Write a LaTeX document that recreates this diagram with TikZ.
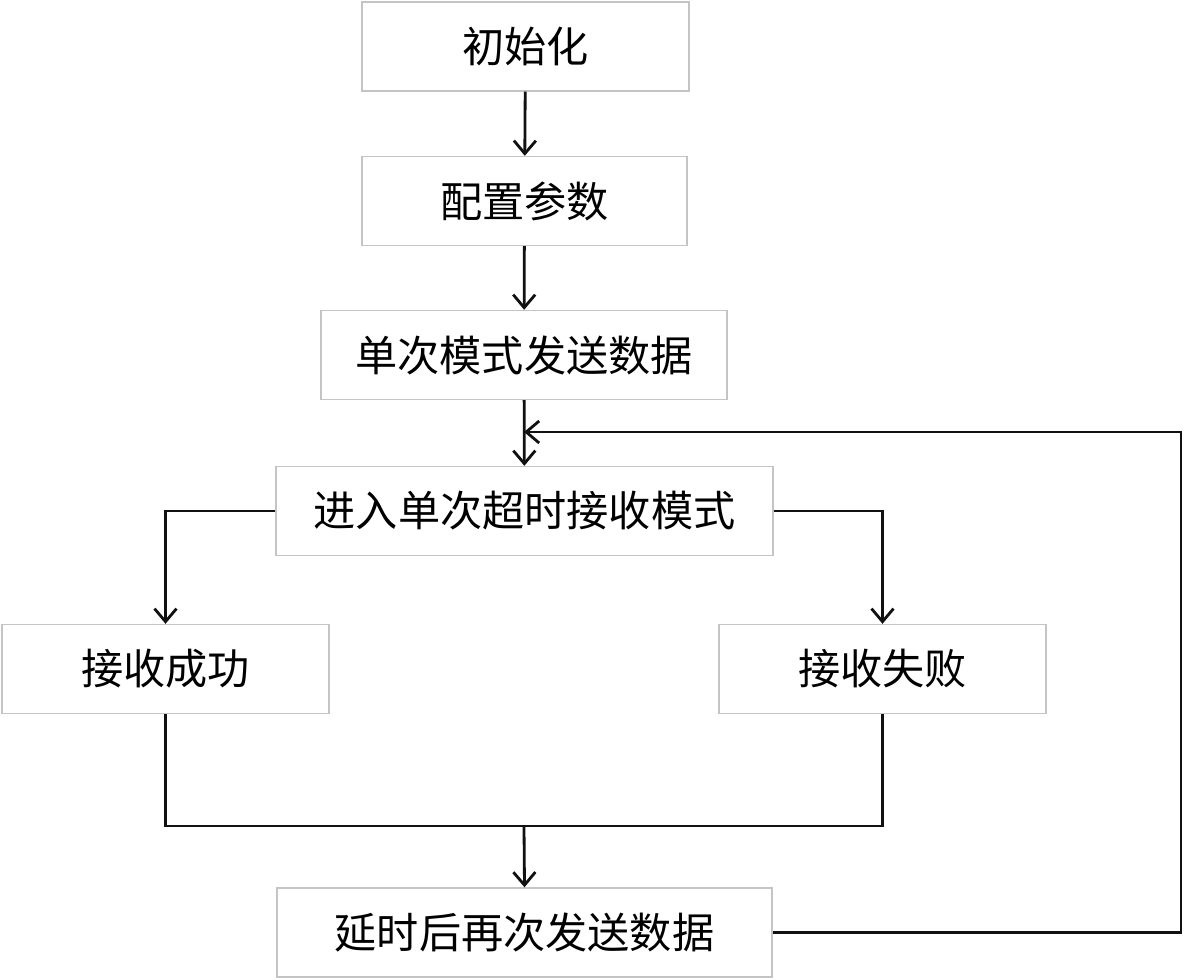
\documentclass[tikz,border=0pt]{standalone}
\usepackage{fontspec}
\newfontfamily\cjk{Noto Sans CJK SC}
\usepackage{tikz}
\usetikzlibrary{arrows.meta,positioning,calc}
\definecolor{boxgray}{HTML}{C4C4C4}
\definecolor{ink}{HTML}{111111}

\begin{document}
\begin{tikzpicture}[x=0.02cm,y=-0.02cm,every node/.style={font=\cjk\fontsize{24}{28}\selectfont},box/.style={draw=boxgray,line width=0.8pt,minimum height=1.78cm,inner sep=0pt},arr/.style={-{Straight Barb[length=2.6mm,width=4.4mm]},line width=1.6pt,draw=ink},ln/.style={line width=1.6pt,draw=ink}]
\useasboundingbox (0,0) rectangle (1184,980);
\node[box,minimum width=6.54cm] (init) at (525.5,46.5) {初始化};
\node[box,minimum width=6.5cm] (cfg) at (524.5,201) {配置参数};
\node[box,minimum width=8.12cm] (single) at (524,355) {单次模式发送数据};
\node[box,minimum width=9.94cm] (recv) at (524.5,511) {进入单次超时接收模式};
\node[box,minimum width=6.54cm] (ok) at (165.5,669) {接收成功};
\node[box,minimum width=6.54cm] (fail) at (882.5,669) {接收失败};
\node[box,minimum width=9.9cm] (delay) at (524.5,932.5) {延时后再次发送数据};
\coordinate (back) at (524,432);
\coordinate (loop) at (1181,432);
\coordinate (merge) at (524,826);
\draw[arr] (init) -- (cfg);\draw[arr] (cfg) -- (single);\draw[arr] (single) -- (recv);
\draw[arr] (recv.west) -| (ok.north);\draw[arr] (recv.east) -| (fail.north);
\draw[ln] (ok.south) |- (merge) -| (fail.south);
\draw[arr] (merge) -- (delay.north);
\draw[arr] (delay.east) -| (loop) -- (back);
\end{tikzpicture}
\end{document}
